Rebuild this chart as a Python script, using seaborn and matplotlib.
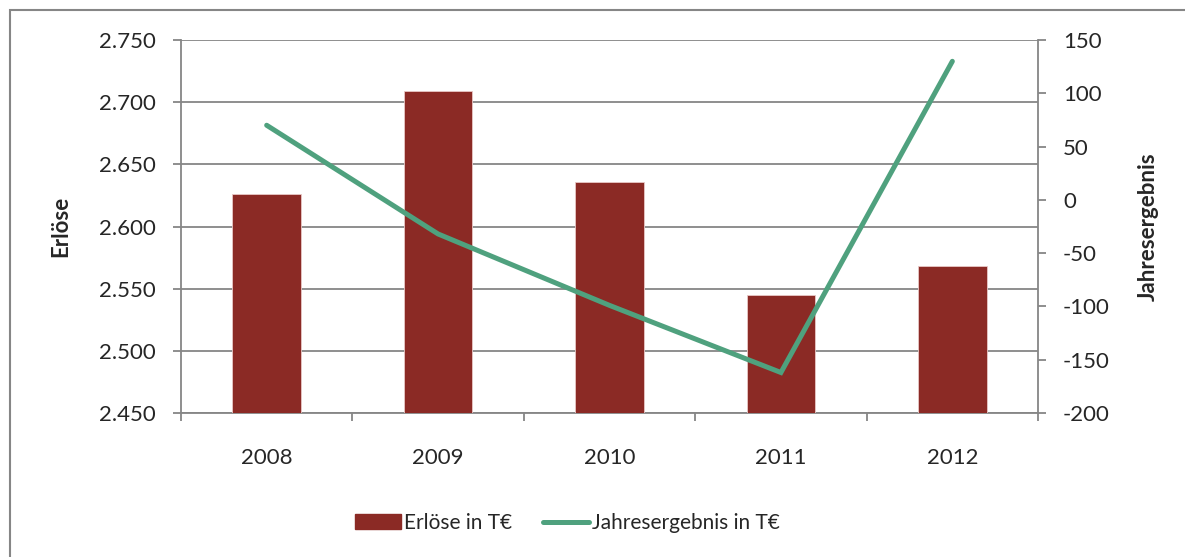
import pandas as pd
import matplotlib.pyplot as plt
import seaborn as sns
from matplotlib.lines import Line2D
from matplotlib.patches import Patch, Rectangle
from matplotlib.ticker import FuncFormatter, MultipleLocator, FixedLocator

# data (T€)
years = ["2008", "2009", "2010", "2011", "2012"]
erloese = [2626, 2709, 2636, 2545, 2568]
jahresergebnis = [70, -32, -99, -162, 130]

bar_color = "#8B2A25"
line_color = "#4FA17E"
grid_color = "#868686"

sns.set_style("white")
plt.rcParams["font.family"] = ["Lato", "DejaVu Sans"]
plt.rcParams["axes.unicode_minus"] = False

df = pd.DataFrame({"Jahr": years, "Erloese": erloese, "Ergebnis": jahresergebnis})

fig = plt.figure(figsize=(11.85, 5.57), dpi=100)
ax = fig.add_axes([0.1527, 0.2585, 0.7233, 0.6697])

# bars
sns.barplot(data=df, x="Jahr", y="Erloese", color=bar_color, width=0.4,
            edgecolor="#E8C8C6", linewidth=0.6, saturation=1, ax=ax, zorder=3)
ax.set_ylim(2450, 2750)
ax.yaxis.set_major_locator(MultipleLocator(50))
ax.yaxis.set_major_formatter(FuncFormatter(lambda v, p: f"{v:,.0f}".replace(",", ".")))
ax.grid(axis="y", color=grid_color, linewidth=1.3, zorder=0)
ax.set_axisbelow(True)
ax.set_xlim(-0.5, 4.5)

# x ticks at category borders, labels at centres
ax.xaxis.set_major_locator(FixedLocator([-0.5, 0.5, 1.5, 2.5, 3.5, 4.5]))
ax.xaxis.set_minor_locator(FixedLocator(range(len(years))))
ax.set_xticklabels([""] * 6)
ax.set_xticklabels(years, minor=True)
ax.tick_params(axis="x", which="major", direction="out", length=6, width=1.3,
               color=grid_color, bottom=True)
ax.tick_params(axis="x", which="minor", length=0, pad=25, labelsize=16)
ax.tick_params(axis="y", direction="out", length=6, width=1.3, color=grid_color,
               left=True, labelsize=16, pad=12)
ax.set_xlabel("")
ax.set_ylabel("Erlöse", fontsize=16, fontweight="bold", labelpad=20)

for s in ["left", "bottom", "right"]:
    ax.spines[s].set_color(grid_color)
    ax.spines[s].set_linewidth(1.3)
ax.spines["top"].set_visible(False)

# line on secondary axis
ax2 = ax.twinx()
sns.pointplot(data=df, x="Jahr", y="Ergebnis", color=line_color, markers="",
              errorbar=None, linewidth=3.6, ax=ax2)
for ln in ax2.lines:
    ln.set_solid_capstyle("round")
    ln.set_solid_joinstyle("miter")
ax2.set_xlim(-0.5, 4.5)
ax2.set_ylim(-200, 150)
ax2.yaxis.set_major_locator(MultipleLocator(50))
ax2.tick_params(axis="y", direction="out", length=6, width=1.3, color=grid_color,
                right=True, labelsize=16, pad=12)
ax2.set_ylabel("Jahresergebnis", fontsize=16, fontweight="bold", labelpad=20)
ax2.yaxis.set_label_position("right")
for s in ax2.spines.values():
    s.set_visible(False)
ax2.grid(False)

# legend
handles = [Patch(facecolor=bar_color, edgecolor=bar_color),
           Line2D([0], [0], color=line_color, linewidth=3.6, solid_capstyle="round")]
fig.legend(handles, ["Erlöse in T€", "Jahresergebnis in T€"], loc="center",
           bbox_to_anchor=(0.479, 0.061), ncol=2, frameon=False, fontsize=15,
           handlelength=2.2, handleheight=0.75, handletextpad=0.15, columnspacing=1.5)

# chart-area frame (cropped at right and bottom)
fig.add_artist(Rectangle((10 / 1185, -0.2), 1.2, 1.2 - 10 / 557, transform=fig.transFigure,
                         fill=False, edgecolor=grid_color, linewidth=1.5))

fig.savefig("out.png", dpi=100)
